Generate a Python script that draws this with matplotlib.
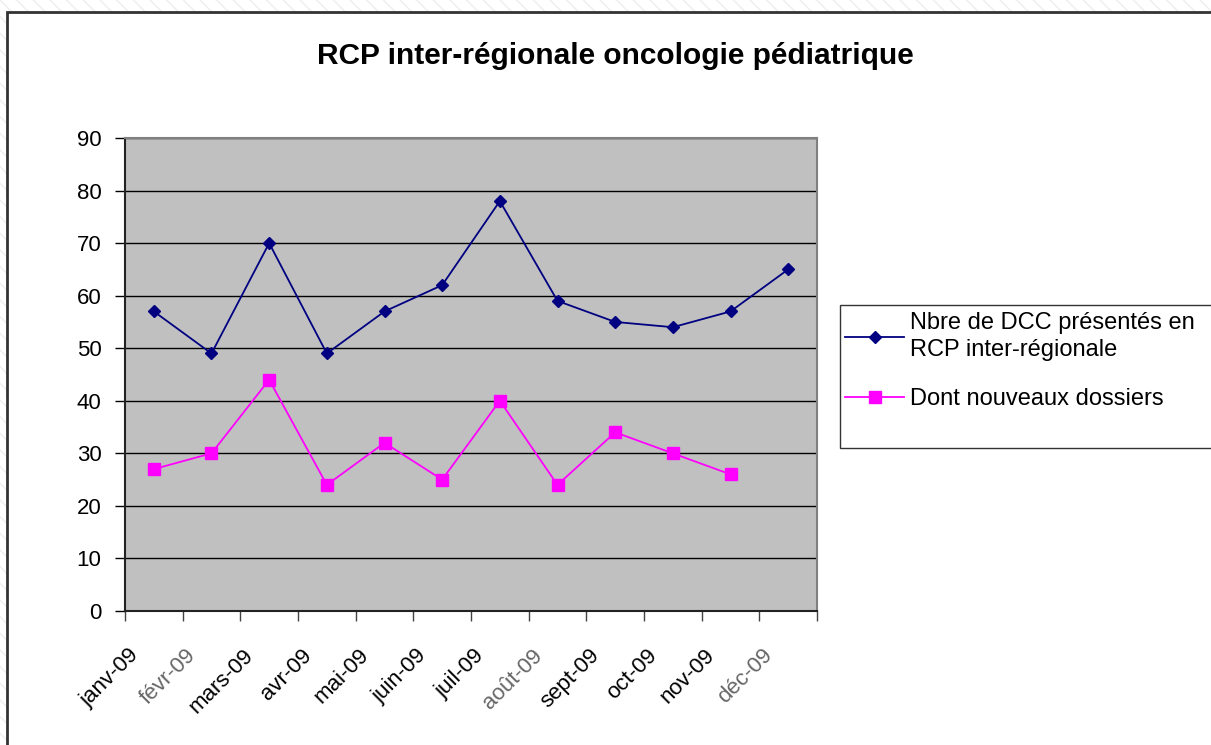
import numpy as np
import matplotlib.pyplot as plt
from matplotlib.patches import Rectangle
import matplotlib.transforms as mtransforms

plt.rcParams['font.family'] = ['Liberation Sans', 'DejaVu Sans']

months = ['janv-09', 'févr-09', 'mars-09', 'avr-09', 'mai-09', 'juin-09',
          'juil-09', 'août-09', 'sept-09', 'oct-09', 'nov-09', 'déc-09']
grey_labels = ['févr-09', 'août-09', 'déc-09']
dcc = [57, 49, 70, 49, 57, 62, 78, 59, 55, 54, 57, 65]
nouveaux = [27, 30, 44, 24, 32, 25, 40, 24, 34, 30, 26]

W, H = 1211, 745
fig = plt.figure(figsize=(W / 100, H / 100), dpi=100)

# faint striped background outside the chart frame
fig.patches.append(Rectangle((0, 0), 1, 1, transform=fig.transFigure,
                             facecolor='white', edgecolor='#ededed',
                             hatch='\\\\', linewidth=0, zorder=-3))
fig.patches.append(Rectangle((7 / W, -0.1), 1.2, 1 - 12 / H + 0.1,
                             transform=fig.transFigure, facecolor='white',
                             edgecolor='#333333', linewidth=2, zorder=-2))

ax = fig.add_axes([125 / W, 1 - 611 / H, (817 - 125) / W, (611 - 138) / H])
ax.set_facecolor('#c0c0c0')

x = np.arange(len(months))
ax.plot(x, dcc, color='#000080', marker='D', markersize=6, linewidth=1.3,
        label='Nbre de DCC présentés en\nRCP inter-régionale', zorder=3)
ax.plot(x[:len(nouveaux)], nouveaux, color='#ff00ff', marker='s',
        markersize=9, linewidth=1.3, label='Dont nouveaux dossiers', zorder=3)

ax.set_xlim(-0.5, len(months) - 0.5)
ax.set_ylim(0, 90)
ax.set_yticks(range(0, 91, 10))
ax.yaxis.grid(True, color='black', linewidth=1)
ax.set_axisbelow(True)
ax.tick_params(axis='y', direction='out', length=7, width=1, labelsize=16,
               pad=10, color='black')

ax.set_xticks(x)
ax.set_xticklabels(months)
ax.set_xticks(np.arange(-0.5, len(months)), minor=True)
ax.tick_params(axis='x', which='major', length=0, labelsize=16, pad=10)
ax.tick_params(axis='x', which='minor', direction='out', length=7, width=1,
               color='#444444')
offset = mtransforms.ScaledTranslation(-26 / 100, -20 / 100, fig.dpi_scale_trans)
for lab in ax.get_xticklabels():
    lab.set_rotation(45)
    lab.set_ha('right')
    lab.set_va('top')
    lab.set_rotation_mode('anchor')
    lab.set_transform(lab.get_transform() + offset)
    if lab.get_text() in grey_labels:
        lab.set_color('#666666')

for side in ['top', 'right']:
    ax.spines[side].set_color('#808080')
    ax.spines[side].set_linewidth(1.5)
for side in ['left', 'bottom']:
    ax.spines[side].set_color('#222222')
    ax.spines[side].set_linewidth(1.5)

fig.text(615 / W, 1 - 56 / H, 'RCP inter-régionale oncologie pédiatrique',
         ha='center', va='center', fontsize=21.5, fontweight='bold')

# legend frame running off the right edge
fig.patches.append(Rectangle((840 / W, 1 - 448 / H), 0.4, (448 - 305) / H,
                             transform=fig.transFigure, facecolor='white',
                             edgecolor='#333333', linewidth=1, zorder=1))
handles, labels = ax.get_legend_handles_labels()
leg = fig.legend(handles, labels, loc='upper left',
                 bbox_to_anchor=(836 / W, 1 - 303 / H), frameon=False,
                 fontsize=17, handlelength=2.5, handletextpad=0.25,
                 labelspacing=1.15, borderaxespad=0)
for t in leg.get_texts():
    t.set_linespacing(1.25)

fig.savefig('out.png', dpi=100)
